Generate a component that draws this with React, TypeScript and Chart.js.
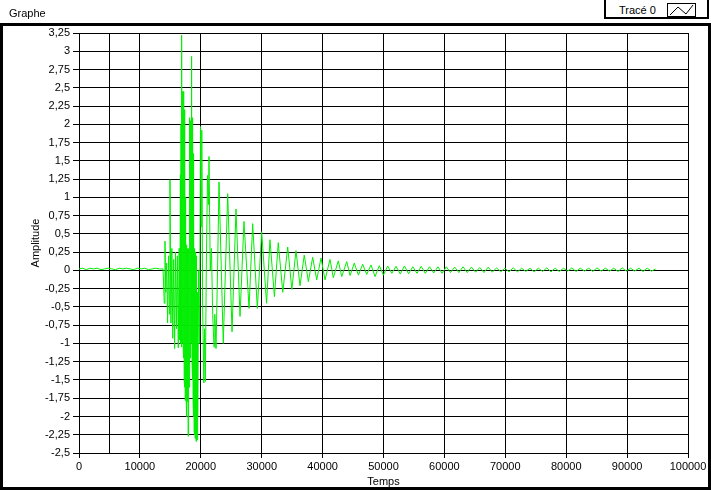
import React, { useEffect, useRef } from 'react';
import { Chart, registerables } from 'chart.js';

Chart.register(...registerables);

// ---- Data ----
const xTickLabels = ['0', '10000', '20000', '30000', '40000', '50000', '60000', '70000', '80000', '90000', '100000'];

// [time, amplitude] pairs
// quiet baseline before the burst
const baseline: [number, number][] = [
  [0, 0.02], [600, 0.03], [1200, 0.01], [1800, 0.03], [2400, 0.02], [3000, 0.03], [3600, 0.01], [4200, 0.02],
  [4800, 0.03], [5400, 0.02], [6000, 0.01], [6600, 0.03], [7200, 0.02], [7800, 0.03], [8400, 0.02], [9000, 0.01],
  [9600, 0.03], [10200, 0.02], [10800, 0.03], [11400, 0.01], [12000, 0.02], [12600, 0.03], [13200, 0.02], [13800, 0.02],
];

// onset
const onset: [number, number][] = [
  [13900, 0.02], [14000, -0.45], [14120, 0.4], [14250, -0.3], [14400, 0.1], [14550, -0.72], [14700, 0.2], [14850, -0.6],
  [14940, 1.24], [15100, -0.72], [15250, 0.3], [15400, -0.93], [15550, 0.15], [15700, -1.07], [15850, 0.25], [16000, -0.8],
  [16150, 0.2], [16300, -1.06], [16450, 0.3], [16550, -0.95], [16650, 1.31],
];

// dense main burst
const burst: [number, number][] = [
  [16700, -1.0], [16750, 2.0], [16800, -1.05], [16850, 2.3], [16910, 3.22], [16950, -0.9], [16990, 2.45], [17030, -1.0],
  [17070, 2.4], [17110, -1.09], [17150, 2.45], [17190, -1.2], [17230, 2.3], [17270, -1.5], [17310, 2.2], [17350, -1.6],
  [17390, 1.4], [17430, -1.78], [17470, 1.0], [17510, -1.7], [17550, 0.5], [17590, -1.75], [17630, 0.3], [17670, -2.0],
  [17710, 0.35], [17750, -1.78], [17790, 0.3], [17830, -1.8], [17870, 0.25], [17920, -2.27], [17960, 0.3], [18000, -1.78],
  [18040, 0.3], [18080, -1.6], [18130, 1.5], [18170, -1.5], [18210, 2.09], [18250, -1.2], [18290, 2.05], [18330, -1.0],
  [18370, 2.0], [18410, -0.5], [18450, 2.93], [18490, -1.0], [18530, 2.09], [18570, -1.3], [18610, 2.09], [18650, -1.5],
  [18690, 1.9], [18730, -1.8], [18770, 1.6], [18810, -2.0], [18860, 0.9], [18900, -2.2], [18940, 0.3], [18980, -2.25],
  [19020, 0.3], [19060, -2.3], [19100, 0.2], [19140, -2.2], [19180, 0.25], [19220, -2.34], [19260, 0.2], [19300, -2.3],
  [19340, -0.3], [19380, -2.32], [19440, -0.3], [19520, -2.0], [19650, 0.0], [19800, -1.0], [19950, 1.97], [20060, 0.6],
  [20160, 1.92], [20300, -0.5], [20500, -1.54], [20620, -0.8], [20750, -1.52], [20900, 0.0], [21100, 1.3], [21250, 0.9],
  [21350, 1.56], [21550, 0.0], [21750, 0.3], [21950, -0.6], [22170, -1.05], [22300, -0.6], [22500, -1.07], [22750, 0.0],
];

// damped ringing (peak / trough pairs)
const decay: [number, number][] = [
  [22990, 1.21], [23690, -1.0], [24420, 1.05], [25130, -0.84], [25780, 0.84], [26440, -0.63], [27090, 0.67], [27920, -0.52],
  [28520, 0.64], [29280, -0.52], [30000, 0.53], [30800, -0.45], [31360, 0.42], [32090, -0.36], [32720, 0.38], [33460, -0.3],
  [34270, 0.32], [34950, -0.26], [35630, 0.27], [36290, -0.21], [36990, 0.21], [37660, -0.155], [38370, 0.18], [39030, -0.13],
  [39740, 0.17], [40400, -0.13], [41210, 0.15], [41760, -0.1], [42580, 0.13], [43140, -0.085], [43960, 0.12], [44510, -0.07],
  [45200, 0.1], [45880, -0.065], [46580, 0.085], [47250, -0.055], [47950, 0.075], [48620, -0.085], [49310, 0.065], [49990, -0.065],
  [50690, 0.06], [51370, -0.04],
];

// small residual oscillation until the end of the record
const tail: [number, number][] = [
  [52060, 0.055], [52750, -0.05], [53440, 0.06], [54120, -0.045], [54810, 0.05], [55500, -0.04], [56190, 0.055], [56870, -0.04],
  [57560, 0.05], [58250, -0.035], [58940, 0.05], [59620, -0.04], [60310, 0.05], [61000, -0.03], [61690, 0.045], [62370, -0.03],
  [63060, 0.05], [63750, -0.03], [64440, 0.045], [65120, -0.025], [65810, 0.04], [66500, -0.03], [67190, 0.045], [67870, -0.025],
  [68560, 0.035], [69250, -0.02], [69940, 0.03], [70620, -0.02], [71310, 0.035], [72000, -0.02], [72690, 0.03], [73370, -0.015],
  [74060, 0.03], [74750, -0.02], [75440, 0.03], [76120, -0.015], [76810, 0.035], [77500, -0.02], [78190, 0.03], [78870, -0.015],
  [79560, 0.03], [80250, -0.01], [80940, 0.035], [81620, -0.015], [82310, 0.03], [83000, -0.01], [83690, 0.03], [84370, -0.015],
  [85060, 0.035], [85750, -0.01], [86440, 0.03], [87120, -0.01], [87810, 0.03], [88500, -0.015], [89190, 0.035], [89870, -0.01],
  [90560, 0.03], [91250, -0.01], [91940, 0.03], [92620, -0.015], [93310, 0.03], [94000, -0.01], [94690, 0.02],
];

const FONT = "'Liberation Sans', Arial, sans-serif";
const TXT = { family: FONT, size: 11 };

export default function App() {
  const ref = useRef<HTMLCanvasElement>(null);

  useEffect(() => {
    const all = [...baseline, ...onset, ...burst, ...decay, ...tail];
    const points = all.map(([t, a]) => ({ x: t, y: a }));

    const isMajor = (v: number) => Math.abs(v % 10000) < 1e-6;

    const chart = new Chart(ref.current as HTMLCanvasElement, {
      type: 'line',
      data: {
        datasets: [
          {
            label: 'Tracé 0',
            data: points,
            borderColor: '#00ee00',
            borderWidth: 1,
            pointRadius: 0,
            tension: 0,
            fill: false,
          },
        ],
      },
      options: {
        animation: false,
        responsive: false,
        maintainAspectRatio: false,
        layout: { padding: { top: 33, right: 23, bottom: 0, left: 0 } },
        plugins: { legend: { display: false }, tooltip: { enabled: false } },
        scales: {
          x: {
            type: 'linear',
            min: 0,
            max: 100000,
            afterFit: (s: any) => {
              s.height = 38;
            },
            ticks: {
              stepSize: 5000,
              autoSkip: false,
              maxRotation: 0,
              minRotation: 0,
              padding: 2,
              color: '#000',
              font: TXT,
              callback: (v: any) => {
                const n = Number(v);
                if (!isMajor(n)) return '';
                const idx = Math.round(n / 10000);
                return xTickLabels[idx] ?? String(n);
              },
            },
            grid: {
              color: (ctx: any) => {
                const v = ctx.tick ? ctx.tick.value : 0;
                return isMajor(v) || v === 5000 ? '#000' : 'rgba(0,0,0,0)';
              },
              tickColor: (ctx: any) => {
                const v = ctx.tick ? ctx.tick.value : 0;
                return isMajor(v) ? '#000' : 'rgba(0,0,0,0)';
              },
              tickLength: 5,
              lineWidth: 1,
            },
            border: { color: '#000', width: 1 },
            title: {
              display: true,
              text: 'Temps',
              color: '#000',
              font: TXT,
              padding: { top: 0, bottom: 2 },
            },
          },
          y: {
            type: 'linear',
            min: -2.5,
            max: 3.25,
            afterFit: (s: any) => {
              s.width = 79;
            },
            ticks: {
              stepSize: 0.25,
              autoSkip: false,
              padding: 3,
              color: '#000',
              font: TXT,
              callback: (v: any) => {
                const n = Math.round(Number(v) * 100) / 100;
                return String(n === 0 ? 0 : n).replace('.', ',');
              },
            },
            grid: {
              color: '#000',
              tickColor: '#000',
              tickLength: 6,
              lineWidth: 1,
            },
            border: { color: '#000', width: 1 },
            title: {
              display: true,
              text: 'Amplitude',
              color: '#000',
              font: TXT,
              padding: { top: 29, bottom: 0 },
            },
          },
        },
      },
    });
    return () => chart.destroy();
  }, []);

  return (
    <div
      style={{
        position: 'fixed',
        left: 0,
        top: 0,
        width: 711,
        height: 491,
        background: '#fff',
        fontFamily: FONT,
        fontSize: 11,
        color: '#000',
        overflow: 'hidden',
      }}
    >
      <div
        style={{
          position: 'absolute',
          left: 0,
          top: 23,
          width: 711,
          height: 467,
          boxSizing: 'border-box',
          border: '3px solid #000',
        }}
      />
      <canvas ref={ref} width={711} height={491} style={{ position: 'absolute', left: 0, top: 0 }} />
      <div style={{ position: 'absolute', left: 9, top: 7, lineHeight: '13px', whiteSpace: 'nowrap' }}>Graphe</div>
      <div
        style={{
          position: 'absolute',
          left: 604,
          top: -2,
          width: 105,
          height: 21,
          boxSizing: 'border-box',
          border: '2px solid #000',
          background: '#fff',
        }}
      >
        <div style={{ position: 'absolute', left: 13, top: 4, lineHeight: '13px', whiteSpace: 'nowrap' }}>Tracé 0</div>
        <div
          style={{
            position: 'absolute',
            left: 61,
            top: 3,
            width: 29,
            height: 14,
            boxSizing: 'border-box',
            border: '1px solid #000',
            background: '#fff',
          }}
        >
          <svg width={27} height={12} style={{ position: 'absolute', left: 0, top: 0 }}>
            <polyline points="2,11 10,3 18,10 25,1" fill="none" stroke="#000" strokeWidth={1} />
          </svg>
        </div>
      </div>
    </div>
  );
}
